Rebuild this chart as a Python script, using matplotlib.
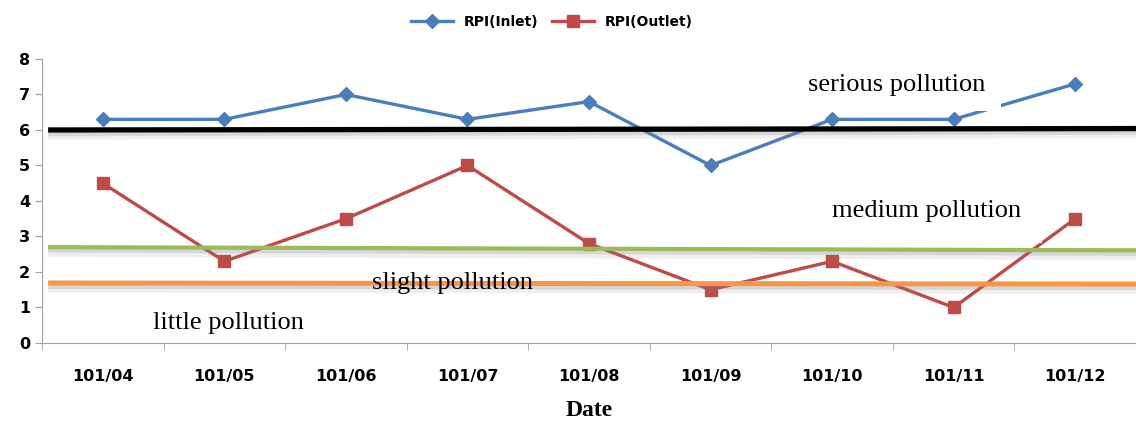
import numpy as np
import matplotlib.pyplot as plt
import matplotlib.patheffects as pe

months = ['101/04', '101/05', '101/06', '101/07', '101/08',
          '101/09', '101/10', '101/11', '101/12']
rpi_inlet = [6.3, 6.3, 7.0, 6.3, 6.8, 5.0, 6.3, 6.3, 7.3]
rpi_outlet = [4.5, 2.3, 3.5, 5.0, 2.8, 1.5, 2.3, 1.0, 3.5]

# pollution class boundaries (value at left end, value at right end)
levels_left = [6.0, 2.70, 1.69]
levels_right = [6.04, 2.61, 1.66]
level_colors = ['black', '#9BBB59', '#F79646']
level_widths = [3.8, 3.0, 3.6]

labels = ['serious pollution', 'medium pollution', 'slight pollution', 'little pollution']
label_x = [6.53, 6.78, 2.88, 1.03]
label_y = [7.27, 3.72, 1.69, 0.56]

fig = plt.figure(figsize=(11.36, 4.21), dpi=100)
ax = fig.add_axes([0.037, 0.1853, 0.963, 0.6746])

x = np.arange(len(months))
ax.plot(x, rpi_inlet, color='#4A7EBB', lw=2.4, marker='D', ms=7.5, zorder=3,
        label='RPI(Inlet)')
ax.plot(x, rpi_outlet, color='#BE4B48', lw=2.4, marker='s', ms=9, zorder=3,
        label='RPI(Outlet)')

shadow = [pe.SimpleLineShadow(offset=(0, -4), shadow_color='gray', alpha=0.12, linewidth=6),
          pe.SimpleLineShadow(offset=(0, -2.5), shadow_color='gray', alpha=0.22),
          pe.Normal()]
for yl, yr, c, w in zip(levels_left, levels_right, level_colors, level_widths):
    ax.plot([-0.45, 8.5], [yl, yr], color=c, lw=w, zorder=5,
            solid_capstyle='butt', path_effects=shadow)

# the upper two labels sit on white boxes that hide the series behind them
box_pad = [11, 15, None, None]
for t, tx, ty, p in zip(labels, label_x, label_y, box_pad):
    kw = {}
    if p:
        kw['bbox'] = dict(facecolor='white', edgecolor='none', pad=p)
    ax.text(tx, ty, t, ha='center', va='center', fontsize=19,
            family='Liberation Serif', zorder=4 if p else 6, **kw)

ax.set_xlim(-0.5, 8.5)
ax.set_ylim(0, 8)
ax.set_xticks(x)
ax.set_xticklabels(months, fontweight='bold', fontsize=11.5)
ax.set_xticks(np.arange(-0.5, 9, 1), minor=True)
ax.tick_params(axis='x', which='major', length=0, pad=19)
ax.tick_params(axis='x', which='minor', length=5, color='#A0A0A0')
ax.set_yticks(range(9))
ax.tick_params(axis='y', length=5, color='#A0A0A0', labelsize=11.5)
for lab in ax.get_yticklabels():
    lab.set_fontweight('bold')

for s in ['top', 'right']:
    ax.spines[s].set_visible(False)
for s in ['left', 'bottom']:
    ax.spines[s].set_color('#A0A0A0')

ax.set_xlabel('Date', family='Liberation Serif', fontweight='bold', fontsize=17,
              labelpad=11)

fig.legend(loc='upper center', bbox_to_anchor=(0.486, 0.995), ncol=2, frameon=False,
           prop={'weight': 'bold', 'size': 10}, handlelength=3.0, columnspacing=1.0)

plt.savefig('out.png', dpi=100)
